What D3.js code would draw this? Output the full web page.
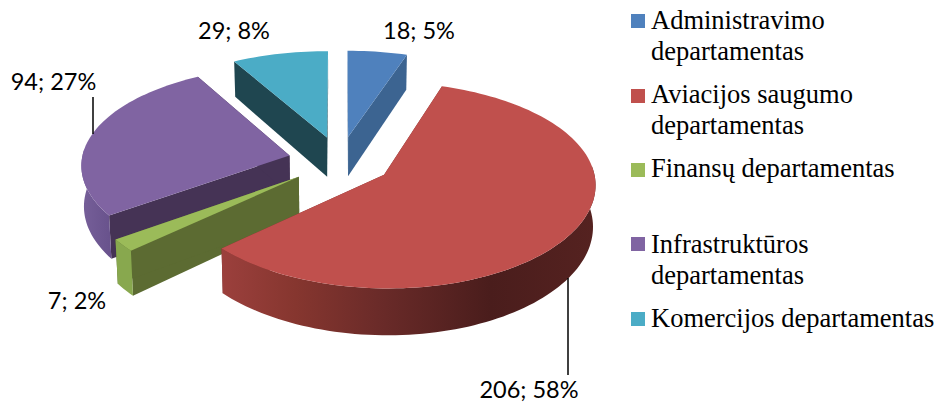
<!DOCTYPE html>
<html><head><meta charset="utf-8">
<script src="https://cdn.jsdelivr.net/npm/d3@7/dist/d3.min.js"></script>
<style>html,body{margin:0;padding:0;background:#fff}svg{display:block}</style>
</head><body><svg id="c" width="937" height="404"></svg>
<script>
const categories = ["Administravimo departamentas","Aviacijos saugumo departamentas","Finansų departamentas","Infrastruktūros departamentas","Komercijos departamentas"];
const values = [18,206,7,94,29];
const percents = [5,58,2,27,8];
const legendLines = [["Administravimo","departamentas"],["Aviacijos saugumo","departamentas"],["Finansų departamentas"],["Infrastruktūros","departamentas"],["Komercijos departamentas"]];
const topColors = ["#4F81BD","#C0504D","#9BBB59","#8064A2","#4BACC6"];
const wallColors = ["#3C6491","url(#redWall)","#88A84E","url(#purpleWall)","#3E8FA5"];
const radialColors = ["#3C6491","#7a302e","#5C6B32","#453355","#1F4650"];
const drawOrder = [0,4,3,2,1];

// projection settings
const cx=340, cy=161, R=208, explode=52, ka=0.478, kpX=0.0004, kpY=0.00048, depth=40.5, zShrink=0.99;
const svg=d3.select("#c");
const defs=svg.append("defs");
const grad=defs.append("linearGradient").attr("id","redWall").attr("gradientUnits","userSpaceOnUse").attr("x1",220).attr("x2",595).attr("y1",0).attr("y2",0);
[[0,"#9C403D"],[0.2,"#86362F"],[0.42,"#6B2B29"],[0.72,"#4A1D1C"],[1,"#552220"]].forEach(s=>grad.append("stop").attr("offset",s[0]).attr("stop-color",s[1]));
const gradP=defs.append("linearGradient").attr("id","purpleWall").attr("gradientUnits","userSpaceOnUse").attr("x1",80).attr("x2",115).attr("y1",0).attr("y2",0);
[[0,"#77609A"],[1,"#66508A"]].forEach(s=>gradP.append("stop").attr("offset",s[0]).attr("stop-color",s[1]));

const pie=d3.pie().sort(null).value(d=>d);
const arcs=pie(values);
const scaleRadius=d3.scaleLinear().domain([0,1]).range([0,R]);

function project(X,Y,bottom){
  const sx=1/(1-kpX*Y), sy=1/(1-kpY*Y);
  const f=bottom?zShrink:1;
  return [cx+X*sx*f, cy+Y*ka*sy+(bottom?depth*(1+(sx-1)*1.5):0)];
}
function pt(a,ang,r,bottom){
  const mid=(a.startAngle+a.endAngle)/2;
  const ox=explode*Math.sin(mid), oy=-explode*Math.cos(mid);
  const rr=scaleRadius(r);
  return project(ox+rr*Math.sin(ang), oy-rr*Math.cos(ang), bottom);
}
function angles(a){
  const n=Math.max(4,Math.ceil((a.endAngle-a.startAngle)/0.03));
  return d3.range(n+1).map(i=>a.startAngle+(a.endAngle-a.startAngle)*i/n);
}
const line=d3.line();
const g=svg.append("g");
drawOrder.forEach(i=>{
  const a=arcs[i];
  const apexT=pt(a,0,0,false), apexB=pt(a,0,0,true);
  const angs=angles(a);
  const top=angs.map(t=>pt(a,t,1,false));
  // radial walls
  [a.startAngle,a.endAngle].forEach(t=>{
    g.append("path").attr("d",line([apexT,pt(a,t,1,false),pt(a,t,1,true),apexB])+"Z").attr("fill",radialColors[i]);
  });
  // outer wall: only the part that faces the viewer
  const front=angs.filter(t=>Math.cos(t)<0.1);
  if(front.length>1){
    const ft=front.map(t=>pt(a,t,1,false)), fb=front.map(t=>pt(a,t,1,true)).reverse();
    g.append("path").attr("d",line(ft.concat(fb))+"Z").attr("fill",wallColors[i]);
  }
  // top
  g.append("path").attr("d",line([apexT].concat(top))+"Z").attr("fill",topColors[i]);
});

// leader lines
const leaderAttrs=[{x1:93,y1:97,x2:93,y2:134},{x1:568,y1:278,x2:568,y2:375}];
leaderAttrs.forEach(l=>svg.append("line").attr("x1",l.x1).attr("y1",l.y1).attr("x2",l.x2).attr("y2",l.y2).attr("stroke","#000").attr("stroke-width",1.5));

// data labels
const labelPos=[[419,39],[529,398],[77,309],[53.5,90],[234,39]];
const labelFont="Lato, 'Open Sans', sans-serif";
values.forEach((v,i)=>{
  svg.append("text").attr("x",labelPos[i][0]).attr("y",labelPos[i][1]).attr("text-anchor","middle")
    .attr("font-family",labelFont).attr("font-size",23.5).attr("fill","#000").text(v+"; "+percents[i]+"%");
});

// legend
const legendY=[29,103,177,253,327];
const swatchY=[14,89,163,237,312];
const legendFont="'Liberation Serif', serif";
categories.forEach((c,i)=>{
  svg.append("rect").attr("x",631).attr("y",swatchY[i]).attr("width",14).attr("height",14).attr("fill",topColors[i]);
  legendLines[i].forEach((t,j)=>{
    svg.append("text").attr("x",651).attr("y",legendY[i]+j*30.7).attr("font-family",legendFont).attr("font-size",26.5).attr("fill","#000").text(t);
  });
});
</script></body></html>
